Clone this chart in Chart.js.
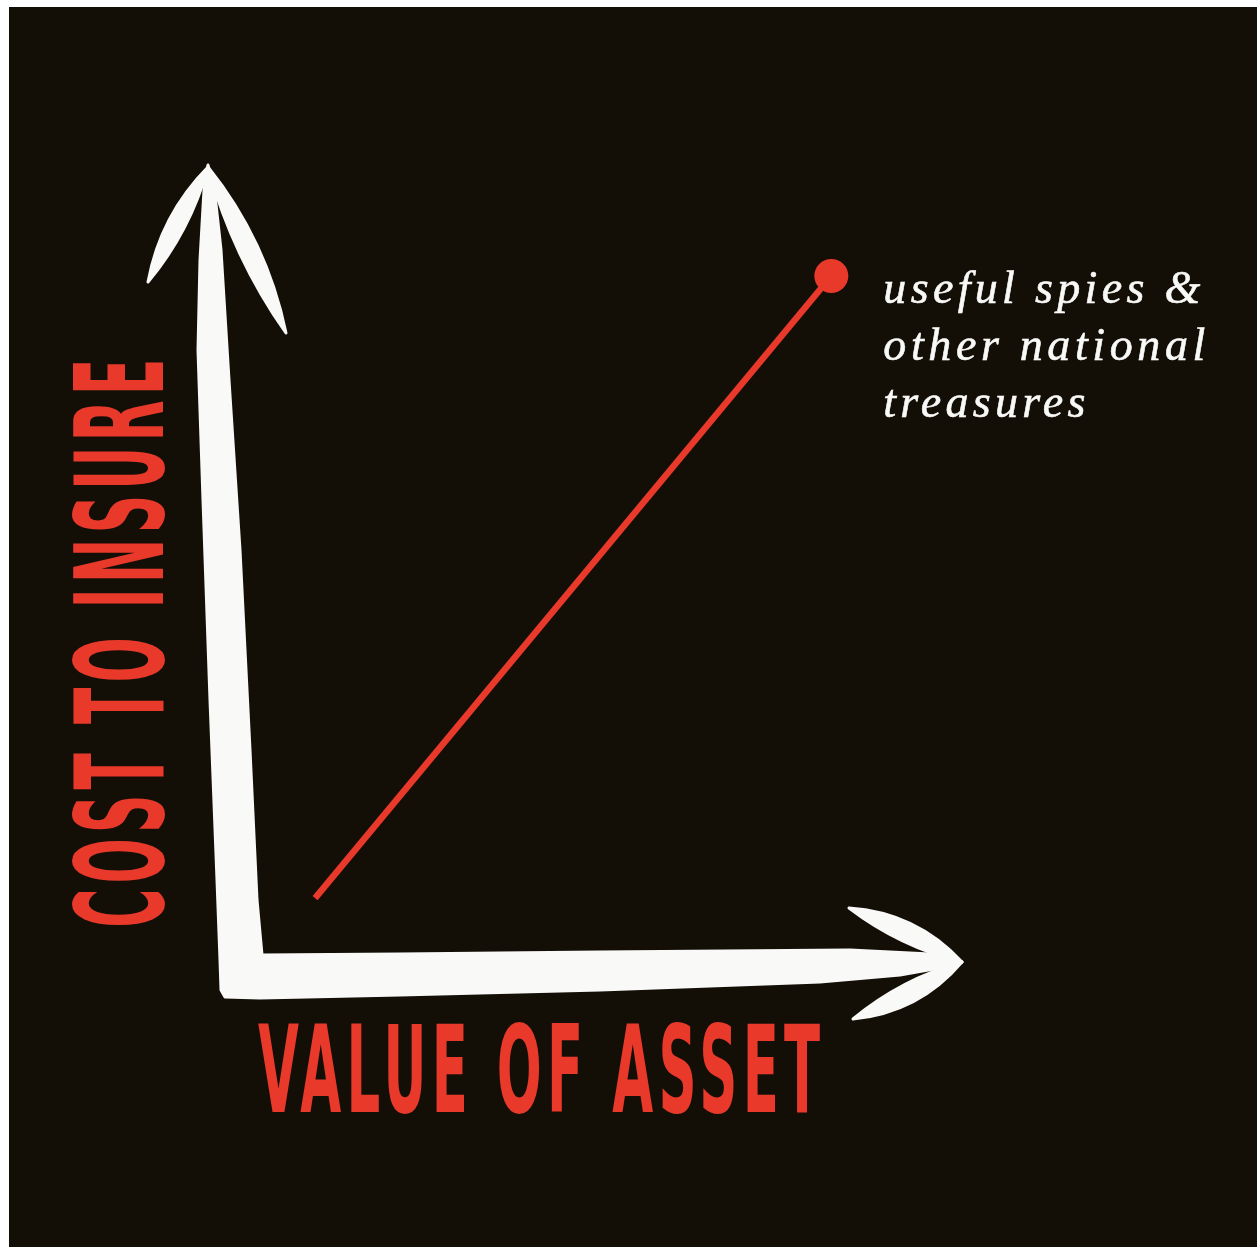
<!DOCTYPE html>
<html>
<head>
<meta charset="utf-8">
<script src="https://cdn.jsdelivr.net/npm/chart.js@4/dist/chart.umd.min.js"></script>
<style>
  html, body { margin: 0; padding: 0; background: #ffffff; }
  #wrap { width: 1257px; height: 1247px; }
</style>
</head>
<body>
<div id="wrap"><canvas id="c" width="1257" height="1247"></canvas></div>
<script>
// ---- data ----
const valueOfAsset = [10.4, 81.9];      // x values (0-100 scale)
const costToInsure = [9.5, 86.3];       // y values (0-100 scale)
const xAxisTitle = 'VALUE OF ASSET';
const yAxisTitle = 'COST TO INSURE';
const annotationLines = ['useful spies &', 'other national', 'treasures'];

const RED = '#e8392a';
const BG = '#130f07';
const WHITE = '#f9f9f7';

const points = valueOfAsset.map((v, i) => ({ x: v, y: costToInsure[i] }));

function lens(ctx, x0, y0, x1, y1, w, bend) {
  const mx = x0 + (x1 - x0) * 0.5, my = y0 + (y1 - y0) * 0.5;
  const dx = x1 - x0, dy = y1 - y0, L = Math.hypot(dx, dy);
  const nx = -dy / L, ny = dx / L;
  const b = bend || 0;
  ctx.beginPath();
  ctx.moveTo(x0, y0);
  ctx.quadraticCurveTo(mx + nx * (w + b), my + ny * (w + b), x1, y1);
  ctx.quadraticCurveTo(mx - nx * (w - b), my - ny * (w - b), x0, y0);
  ctx.closePath();
  ctx.fill();
  ctx.stroke();
}

function fitText(ctx, text, font, spacing, cx, cy, tw, th, rot, color) {
  ctx.save();
  ctx.font = font;
  ctx.letterSpacing = spacing + 'px';
  ctx.textAlign = 'left';
  ctx.textBaseline = 'alphabetic';
  const m = ctx.measureText(text);
  const w = m.actualBoundingBoxLeft + m.actualBoundingBoxRight;
  const asc = m.actualBoundingBoxAscent, desc = m.actualBoundingBoxDescent;
  const h = asc + desc;
  ctx.translate(cx, cy);
  ctx.rotate(rot);
  ctx.scale(tw / w, th / h);
  ctx.fillStyle = color;
  const x0 = -w / 2 + m.actualBoundingBoxLeft;
  const y0 = -h / 2 + asc;
  ctx.fillText(text, x0, y0);
  ctx.restore();
}

const decor = {
  id: 'decor',
  beforeDraw(chart) {
    const ctx = chart.ctx;
    ctx.save();
    ctx.fillStyle = '#ffffff';
    ctx.fillRect(0, 0, chart.width, chart.height);
    ctx.fillStyle = BG;
    ctx.fillRect(9, 7, chart.width - 9, chart.height - 7);
    ctx.restore();
  },
  beforeDatasetsDraw(chart) {
    const ctx = chart.ctx;
    const xs = chart.scales.x, ys = chart.scales.y;
    const ox = xs.getPixelForValue(0), oy = ys.getPixelForValue(0);
    const P = (px, py) => [ox + (px - 240), oy + (py - 975)];
    ctx.save();
    ctx.fillStyle = WHITE;
    ctx.strokeStyle = WHITE;
    ctx.lineWidth = 3;
    ctx.lineJoin = 'round';
    const shaft = [
      [208,165],[204,190],[200,260],[198,350],[203,500],[210,700],[217,880],[220,960],[221,990],[225,997],
      [260,998],[400,995],[600,990],[820,982],[900,975],[945,967],[962,962],
      [930,954],[850,950],[600,952],[400,954],[262,955],
      [257,900],[250,750],[240,550],[229,380],[221,250],[215,195]
    ];
    ctx.beginPath();
    shaft.forEach((p, i) => {
      const q = P(p[0], p[1]);
      if (i === 0) ctx.moveTo(q[0], q[1]); else ctx.lineTo(q[0], q[1]);
    });
    ctx.closePath();
    ctx.fill();
    ctx.stroke();
    // arrow heads
    let a = P(208,167), b = P(148,282);
    lens(ctx, a[0], a[1], b[0], b[1], 17, 3);
    a = P(208,167); b = P(286,333);
    lens(ctx, a[0], a[1], b[0], b[1], 19, -3);
    a = P(962,962); b = P(849,908);
    lens(ctx, a[0], a[1], b[0], b[1], 19, 6);
    a = P(962,962); b = P(853,1019);
    lens(ctx, a[0], a[1], b[0], b[1], 19, -6);
    ctx.restore();
  },
  afterDraw(chart) {
    const ctx = chart.ctx;
    const condensed = 'bold 100px "DejaVu Sans Condensed", "DejaVu Sans", sans-serif';
    fitText(ctx, xAxisTitle, condensed, 9, 539, 1067, 562, 92, 0, RED);
    fitText(ctx, yAxisTitle, condensed, 9, 117, 644, 563, 94, -Math.PI / 2, RED);
    // annotation next to the last point
    const meta = chart.getDatasetMeta(0);
    const pt = meta.data[meta.data.length - 1];
    const left = pt.x + 52;
    const targets = [317, 322, 202];
    ctx.save();
    ctx.fillStyle = WHITE;
    ctx.strokeStyle = WHITE;
    ctx.lineWidth = 0.6;
    ctx.textAlign = 'left';
    ctx.textBaseline = 'alphabetic';
    annotationLines.forEach((line, i) => {
      ctx.font = 'italic 46px "Liberation Serif", "DejaVu Serif", serif';
      ctx.letterSpacing = '0px';
      const w = ctx.measureText(line).width;
      const ls = (targets[i] - w) / (line.length - 1);
      ctx.letterSpacing = ls.toFixed(2) + 'px';
      ctx.fillText(line, left, pt.y + 27 + i * 57);
      ctx.strokeText(line, left, pt.y + 27 + i * 57);
    });
    ctx.restore();
  }
};

new Chart(document.getElementById('c'), {
  type: 'scatter',
  data: {
    datasets: [{
      data: points,
      showLine: true,
      borderColor: RED,
      backgroundColor: RED,
      borderWidth: 6.5,
      borderCapStyle: 'butt',
      pointRadius: [0, 17],
      pointBorderWidth: 0,
      pointHoverRadius: [0, 17],
      clip: false
    }]
  },
  options: {
    responsive: false,
    devicePixelRatio: 1,
    animation: false,
    events: [],
    layout: { padding: { left: 240, right: 1257 - 962, top: 165, bottom: 1247 - 975 } },
    plugins: { legend: { display: false }, tooltip: { enabled: false } },
    scales: {
      x: { type: 'linear', min: 0, max: 100, display: false },
      y: { type: 'linear', min: 0, max: 100, display: false }
    }
  },
  plugins: [decor]
});
</script>
</body>
</html>
